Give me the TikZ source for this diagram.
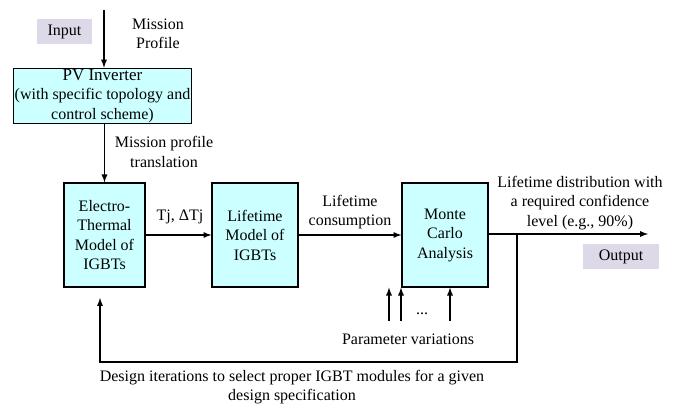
\documentclass[tikz,border=0pt]{standalone}
\usepackage{fontspec}
\setmainfont{Liberation Serif}
\usetikzlibrary{arrows}

\definecolor{boxcyan}{HTML}{CCFFFF}
\definecolor{taglilac}{HTML}{DDD9E8}

\tikzset{
  block/.style = {draw, fill=boxcyan, line width=1.2pt, align=center, inner sep=1pt},
  tag/.style = {fill=taglilac, inner sep=1pt},
  lbl/.style = {align=center, inner sep=0pt},
  flow/.style = {-latex, line width=1.7pt},
}

\begin{document}
\begin{tikzpicture}[x=1pt, y=-1pt, font=\fontsize{16}{19.5}\selectfont]
	\useasboundingbox (0,0) rectangle (683,409);
	% blocks
		\node[tag, minimum width=55pt, minimum height=25pt] (input) at (64.5,31.5) {Input};
		\node[block, minimum width=177pt, minimum height=54pt] (pv) at (102.5,96)
			{{\fontsize{17}{19}\selectfont PV Inverter}\\(with specific topology and\\control scheme)};
		\node[block, minimum width=81pt, minimum height=104pt] (etm) at (104.5,235) {Electro-\\Thermal\\Model of\\IGBTs};
		\node[block, minimum width=86pt, minimum height=104pt] (ltm) at (255,235) {Lifetime\\Model of\\IGBTs};
		\node[block, minimum width=86pt, minimum height=104pt] (mc) at (445,235) {Monte\\Carlo\\Analysis};
		\node[tag, minimum width=76pt, minimum height=25pt] (output) at (621,256.5) {Output};
	% free ends
		\coordinate (mpin) at (104,10);
		\coordinate (outend) at (648,234);
		\coordinate (br) at (517,234);
		\coordinate (fbk) at (517,362);
		\coordinate (fbend) at (100,298);
		\coordinate (p1) at (389,321);
		\coordinate (p2) at (401,321);
		\coordinate (p3) at (450,321);
	% connectors
		\draw[flow] (mpin) -- (mpin |- pv.north);
		\draw[flow] (etm.north |- pv.south) -- (etm.north);
		\draw[flow] (etm) -- (ltm);
		\draw[flow] (ltm) -- (mc);
		\draw[flow] (mc.east |- outend) -- (outend);
		\draw[flow] (br) -- (fbk) -| (fbend);
		\draw[flow] (p1) -- (p1 |- mc.south);
		\draw[flow] (p2) -- (p2 |- mc.south);
		\draw[flow] (p3) -- (p3 |- mc.south);
	% labels
		\node[lbl] (mplbl) at (158,34) {Mission\\Profile};
		\node[lbl] (trlbl) at (164,152) {Mission profile\\translation};
		\node[lbl] (tjlbl) at (180,217) {Tj, ΔTj};
		\node[lbl] (lclbl) at (350,212) {Lifetime\\consumption};
		\node[lbl] (ldlbl) at (580,203) {Lifetime distribution with\\a required confidence\\level (e.g., 90\%)};
		\node[lbl] (dots) at (422,314) {...};
		\node[lbl] (pvlbl) at (408,339) {Parameter variations};
		\node[lbl] (dilbl) at (292,387) {Design iterations to select proper IGBT modules for a given\\design specification};
\end{tikzpicture}
\end{document}
